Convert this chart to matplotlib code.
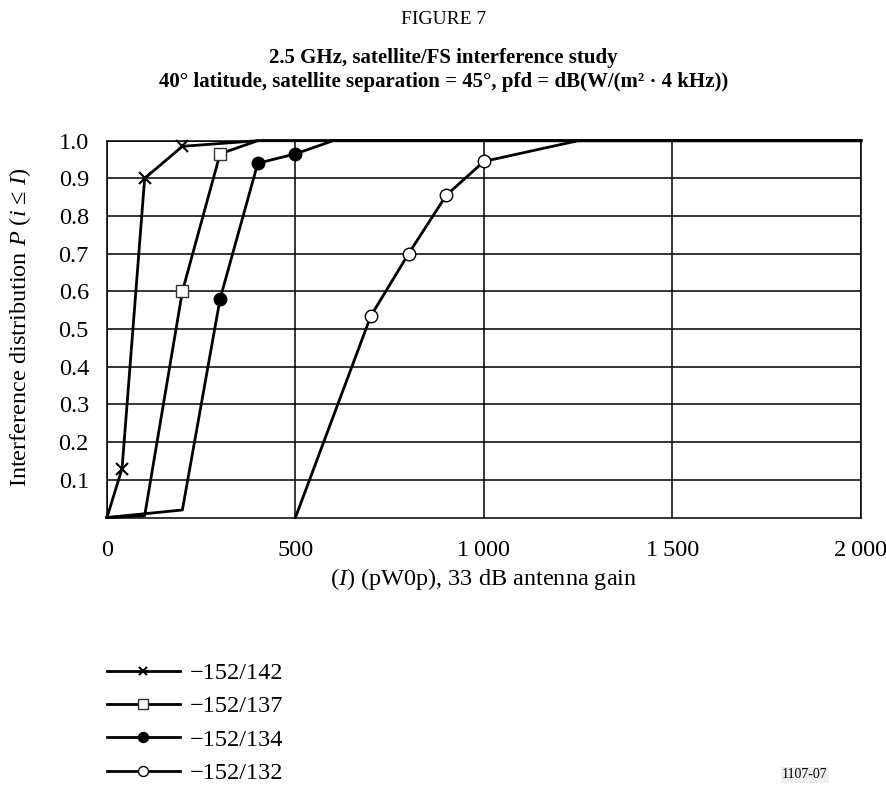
import matplotlib
matplotlib.use("Agg")
import matplotlib.pyplot as plt

plt.rcParams["font.family"] = ["Liberation Serif", "DejaVu Serif"]
plt.rcParams["mathtext.fontset"] = "custom"
plt.rcParams["mathtext.rm"] = "Liberation Serif"
plt.rcParams["mathtext.it"] = "Liberation Serif:italic"

# series: interference (pW0p) vs cumulative probability
x_142 = [0, 40, 100, 200, 400, 2000]
y_142 = [0, 0.13, 0.90, 0.985, 1.0, 1.0]
x_137 = [0, 100, 200, 300, 400, 2000]
y_137 = [0, 0.005, 0.60, 0.965, 1.0, 1.0]
x_134 = [0, 200, 300, 400, 500, 600, 2000]
y_134 = [0, 0.02, 0.58, 0.94, 0.965, 1.0, 1.0]
x_132 = [500, 700, 800, 900, 1000, 1250, 2000]
y_132 = [0, 0.535, 0.70, 0.855, 0.945, 1.0, 1.0]

labels = ["\u2212152/142", "\u2212152/137", "\u2212152/134", "\u2212152/132"]
x_ticks = [0, 500, 1000, 1500, 2000]
x_tick_labels = ["0", "500", "1\u2009000", "1\u2009500", "2\u2009000"]
y_ticks = [0.1, 0.2, 0.3, 0.4, 0.5, 0.6, 0.7, 0.8, 0.9, 1.0]

fs = 17.5

fig = plt.figure(figsize=(8.87, 7.89), dpi=100)
ax = fig.add_axes([0.1206, 0.3441, 0.8500, 0.4776])

lw = 2.0
ax.plot(x_142, y_142, color="black", lw=lw, marker="x", markevery=[1, 2, 3],
        ms=8, mew=1.5, mfc="white", mec="black", label=labels[0], clip_on=False, zorder=3)
ax.plot(x_137, y_137, color="black", lw=lw, marker="s", markevery=[2, 3],
        ms=8.5, mew=1.0, mfc="white", mec="#333333", label=labels[1], clip_on=False, zorder=3)
ax.plot(x_134, y_134, color="black", lw=lw, marker="o", markevery=[2, 3, 4],
        ms=9, mew=1.0, mfc="black", mec="black", label=labels[2], clip_on=False, zorder=3)
ax.plot(x_132, y_132, color="black", lw=lw, marker="o", markevery=[1, 2, 3, 4],
        ms=9, mew=1.0, mfc="white", mec="black", label=labels[3], clip_on=False, zorder=3)

ax.set_xlim(0, 2000)
ax.set_ylim(0, 1.0)
ax.set_xticks(x_ticks)
ax.set_xticklabels(x_tick_labels)
ax.set_yticks(y_ticks)
ax.set_yticklabels([f"{v:.1f}" for v in y_ticks])
ax.tick_params(length=0, labelsize=fs)
ax.tick_params(axis="x", pad=16)
ax.tick_params(axis="y", pad=13)
ax.grid(True, color="black", lw=1.1, zorder=1)
ax.set_axisbelow(True)
for s in ax.spines.values():
    s.set_linewidth(1.1)

fig.text(484 / 887, 1 - 579 / 789, "($I$) (pW0p), 33 dB antenna gain",
         ha="center", va="center", fontsize=fs)
fig.text(20 / 887, 1 - 327 / 789, "Interference distribution $P$ ($i$ \u2264 $I$)",
         rotation=90, ha="center", va="center", fontsize=fs)

fig.text(0.5, 1 - 20 / 789, "FIGURE 7", ha="center", va="center", fontsize=14)
fig.text(0.5, 1 - 58 / 789, "2.5 GHz, satellite/FS interference study",
         ha="center", va="center", fontsize=15, fontweight="bold")
fig.text(0.5, 1 - 82 / 789,
         "40\u00b0 latitude, satellite separation = 45\u00b0, pfd = dB(W/(m\u00b2 \u00b7 4 kHz))",
         ha="center", va="center", fontsize=15, fontweight="bold")

fig.legend(loc="upper left", bbox_to_anchor=(107 / 887, 1 - 662 / 789),
           frameon=False, fontsize=fs, handlelength=3.0, handletextpad=0.4,
           labelspacing=0.47, borderpad=0, borderaxespad=0, markerscale=0.8)

fig.text(805 / 887, 1 - 775 / 789, "1107-07", ha="center", va="center", fontsize=10,
         bbox=dict(facecolor="#eeeeee", edgecolor="none", pad=1))

fig.savefig("out.png", dpi=100)
